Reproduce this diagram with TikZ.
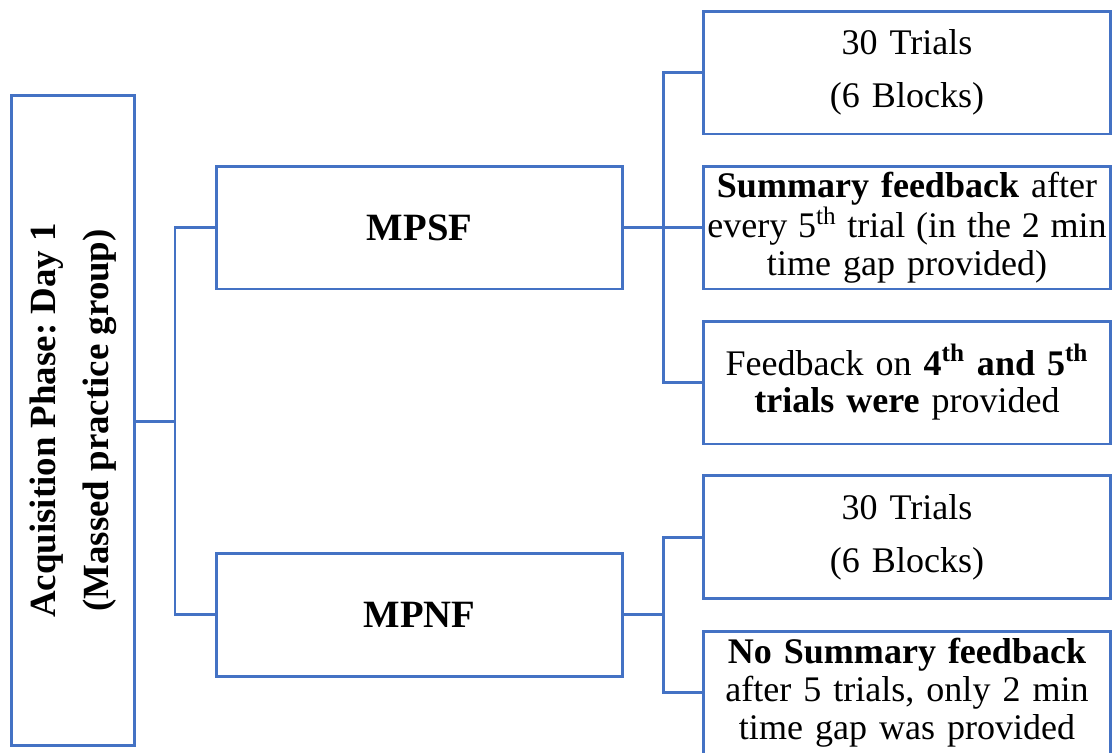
\documentclass[tikz,border=0pt]{standalone}
\usepackage{fontspec}
\setmainfont{Liberation Serif}
\usetikzlibrary{positioning}

\definecolor{boxblue}{HTML}{4472C4}

\tikzset{
  box/.style={draw=boxblue, line width=1.7pt, align=center, inner sep=0pt,
    font=\fontsize{20.5}{21.5}\selectfont\frenchspacing},
  leafbox/.style={box, minimum width=8.16cm, minimum height=2.46cm, text width=8.3cm, inner xsep=-0.07cm},
  groupbox/.style={box, minimum width=8.14cm, minimum height=2.46cm,
    font=\fontsize{22}{24}\selectfont\bfseries},
  conn/.style={draw=boxblue, line width=1.7pt}
}

\begin{document}
\begin{tikzpicture}[x=0.02cm, y=-0.02cm]

  % picture frame
  \useasboundingbox (0,0) rectangle (1114,752);
  \clip (0,0) rectangle (1114,752);

  % phase box, text turned upwards
  \node[box, minimum width=2.48cm, minimum height=13.02cm] (acq) at (73,420.5) {};
  \node[rotate=90, align=center, font=\fontsize{21}{30}\selectfont\bfseries\frenchspacing] (acqtext) at (acq.center)
    {Acquisition Phase: Day 1\\(Massed practice group)};

  % the two groups
  \node[groupbox] (mpsf) at (419.5,227.5) {MPSF};
  \node[groupbox] (mpnf) at (419.5,614.5) {MPNF};

  % conditions of MPSF
  \node[leafbox] (sfa) at (907,72.5) {30 Trials\\[8.5pt](6 Blocks)};
  \node[leafbox] (sfb) at (907,227.5) {\textbf{Summary feedback} after\\{\spaceskip=0.3em every 5\textsuperscript{th} trial (in the 2 min}\\time gap provided)};
  \node[leafbox] (sfc) at (907,382.5) {Feedback on \textbf{4\textsuperscript{th} and 5\textsuperscript{th}}\\\textbf{trials were} provided};

  % conditions of MPNF
  \node[leafbox] (nfa) at (907,537) {30 Trials\\[8.5pt](6 Blocks)};
  \node[leafbox] (nfb) at (907,692.5) {\textbf{No Summary feedback}\\after 5 trials, only 2 min\\time gap was provided};

  % junctions
  \coordinate (jroot) at (175,421);
  \coordinate (jsf) at (663,227.5);
  \coordinate (jnf) at (663,614.5);

  % connectors
  \draw[conn] (acq.east |- jroot) -- (jroot);
  \draw[conn] (mpsf.west) -| (jroot);
  \draw[conn] (mpnf.west) -| (jroot);

  \draw[conn] (mpsf.east) -- (sfb.west);
  \draw[conn] (sfa.west) -| (jsf);
  \draw[conn] (sfc.west) -| (jsf);

  \draw[conn] (mpnf.east) -- (jnf);
  \draw[conn] (nfa.west) -| (jnf);
  \draw[conn] (nfb.west) -| (jnf);

\end{tikzpicture}
\end{document}
